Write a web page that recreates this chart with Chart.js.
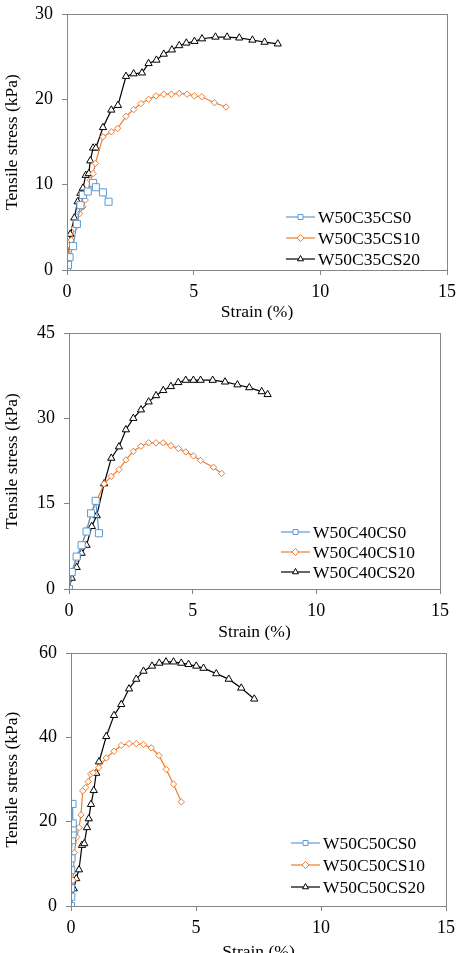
<!DOCTYPE html>
<html>
<head>
<meta charset="utf-8">
<script src="https://cdn.jsdelivr.net/npm/chart.js@4/dist/chart.umd.min.js"></script>
<style>
  html, body { margin: 0; padding: 0; background: #fff; overflow: hidden; }
  .box { position: absolute; left: 0; width: 462px; height: 320px; }
</style>
</head>
<body>
<div class="box" style="top:0px"><canvas id="c35" width="462" height="320"></canvas></div>
<div class="box" style="top:320px"><canvas id="c40" width="462" height="320"></canvas></div>
<div class="box" style="top:640px"><canvas id="c50" width="462" height="320"></canvas></div>
<script>
// W50C35
var strain35_cs0 = [0, 0.04, 0.1, 0.24, 0.39, 0.53, 0.63, 0.82, 1.03, 1.14, 1.42, 1.64];
var stress35_cs0 = [0, 0.6, 1.5, 2.8, 5.4, 7.6, 8.8, 9.2, 10.2, 9.7, 9.1, 8.0];
var strain35_cs10 = [0, 0.09, 0.17, 0.29, 0.39, 0.5, 0.63, 0.72, 0.82, 0.92, 1.03, 1.12, 1.42, 1.75, 2.0, 2.33, 2.63, 2.92, 3.22, 3.51, 3.82, 4.12, 4.43, 4.74, 5.03, 5.32, 5.82, 6.28];
var stress35_cs10 = [0, 2.9, 3.5, 4.9, 5.5, 6.6, 7.4, 8.2, 9.2, 10.5, 11.3, 12.5, 15.6, 16.2, 16.6, 18.0, 18.8, 19.5, 20.0, 20.4, 20.6, 20.6, 20.7, 20.6, 20.4, 20.3, 19.6, 19.1];
var strain35_cs20 = [0, 0.13, 0.29, 0.42, 0.53, 0.63, 0.74, 0.86, 0.92, 1.03, 1.14, 1.42, 1.75, 2.01, 2.33, 2.63, 2.96, 3.22, 3.53, 3.82, 4.14, 4.43, 4.71, 5.03, 5.33, 5.86, 6.32, 6.80, 7.32, 7.80, 8.32];
var stress35_cs20 = [0, 4.2, 6.1, 8.0, 9.0, 9.6, 11.1, 11.3, 12.8, 14.3, 14.3, 16.7, 18.75, 19.3, 22.7, 23.0, 23.1, 24.2, 24.6, 25.3, 25.8, 26.3, 26.6, 26.8, 27.1, 27.3, 27.3, 27.2, 26.95, 26.7, 26.5];

// W50C40
var strain40_cs0 = [0, 0.11, 0.31, 0.51, 0.71, 0.89, 1.08, 1.21];
var stress40_cs0 = [0, 3.0, 5.7, 7.7, 10.1, 13.3, 15.5, 9.8];
var strain40_cs10 = [0, 0.11, 0.31, 0.51, 0.71, 0.92, 1.12, 1.42, 1.71, 2.02, 2.30, 2.60, 2.91, 3.22, 3.52, 3.81, 4.12, 4.42, 4.72, 5.03, 5.32, 5.84, 6.17];
var stress40_cs10 = [0, 2.8, 5.3, 7.5, 10.4, 13.4, 15.5, 18.5, 19.8, 21.0, 22.7, 24.2, 25.1, 25.7, 25.7, 25.7, 25.2, 24.7, 24.1, 23.4, 22.6, 21.4, 20.3];
var strain40_cs20 = [0, 0.11, 0.31, 0.51, 0.71, 0.92, 1.12, 1.42, 1.71, 2.02, 2.30, 2.60, 2.91, 3.22, 3.52, 3.81, 4.12, 4.42, 4.72, 5.03, 5.32, 5.81, 6.31, 6.81, 7.29, 7.79, 8.03];
var stress40_cs20 = [0, 1.9, 3.8, 6.3, 7.7, 11.0, 12.9, 18.5, 23.0, 25.0, 28.0, 30.0, 31.5, 32.9, 34.0, 34.9, 35.6, 36.3, 36.7, 36.7, 36.7, 36.7, 36.4, 35.9, 35.4, 34.7, 34.2];

// W50C50
var strain50_cs0 = [0, 0.01, 0.0, 0.01, 0.02, 0.04, 0.07, 0.07, 0.07, 0.06];
var stress50_cs0 = [0, 2.2, 4.2, 8.5, 11.3, 15.6, 17.0, 18.4, 19.6, 24.2];
var strain50_cs10 = [0, 0.08, 0.13, 0.23, 0.32, 0.4, 0.47, 0.59, 0.69, 0.79, 0.89, 1.11, 1.41, 1.72, 2.01, 2.32, 2.61, 2.90, 3.21, 3.52, 3.81, 4.10, 4.41];
var stress50_cs10 = [0, 6.1, 12.6, 16.3, 18.6, 21.6, 27.3, 28.1, 29.5, 31.3, 31.6, 32.8, 35.1, 36.7, 38.1, 38.5, 38.5, 38.3, 37.5, 35.7, 32.4, 28.9, 24.7];
var strain50_cs20 = [0, 0.11, 0.21, 0.32, 0.44, 0.53, 0.64, 0.71, 0.8, 0.91, 1.01, 1.12, 1.41, 1.72, 2.01, 2.32, 2.61, 2.90, 3.24, 3.53, 3.80, 4.10, 4.41, 4.70, 5.01, 5.30, 5.81, 6.31, 6.81, 7.33];
var stress50_cs20 = [0, 4.1, 6.5, 8.6, 14.4, 14.8, 18.6, 20.7, 24.1, 27.4, 31.5, 34.2, 40.2, 45.2, 47.8, 51.5, 53.8, 55.7, 56.9, 57.6, 57.9, 57.9, 57.6, 57.3, 56.9, 56.4, 55.1, 53.8, 51.7, 49.1];

var xTicks = [0, 5, 10, 15];
var yTicks35 = [0, 10, 20, 30];
var yTicks40 = [0, 15, 30, 45];
var yTicks50 = [0, 20, 40, 60];

var FONT = "'Liberation Serif', 'Times New Roman', serif";
var BLUE = "#5B9BD5", ORANGE = "#ED7D31", BLACK = "#000000", FRAME = "#858585";

function pts(xs, ys) {
    return xs.map(function (x, i) { return { x: x, y: ys[i] }; });
}

function series(label, xs, ys, color, style, r) {
    return {
        label: label,
        data: pts(xs, ys),
        borderColor: color,
        backgroundColor: "#ffffff",
        borderWidth: 1.2,
        pointStyle: style,
        pointRadius: r,
        pointBorderWidth: 1,
        pointBorderColor: color,
        pointBackgroundColor: "#ffffff",
        tension: 0,
        fill: false,
    };
}

var frame = {
    id: "frame",
    afterDraw: function (chart) {
        var a = chart.chartArea, ctx = chart.ctx;
        ctx.save();
        ctx.strokeStyle = FRAME;
        ctx.lineWidth = 1;
        ctx.strokeRect(Math.round(a.left) + 0.5, Math.round(a.top) + 0.5,
            Math.round(a.right - a.left), Math.round(a.bottom - a.top));
        ctx.restore();
    },
};

var insideLegend = {
    id: "insideLegend",
    afterDraw: function (chart, args, opts) {
        var a = chart.chartArea, ctx = chart.ctx;
        ctx.save();
        ctx.font = "17.5px " + FONT;
        ctx.textBaseline = "middle";
        chart.data.datasets.forEach(function (ds, i) {
            var x0 = a.right - opts.fromRight;
            var y = a.bottom - opts.fromBottom + i * opts.step;
            ctx.strokeStyle = ds.borderColor;
            ctx.lineWidth = 1.2;
            ctx.beginPath();
            ctx.moveTo(x0, y);
            ctx.lineTo(x0 + 29, y);
            ctx.stroke();
            ctx.fillStyle = "#ffffff";
            ctx.strokeStyle = ds.borderColor;
            ctx.lineWidth = 1;
            Chart.helpers.drawPoint(ctx, { pointStyle: ds.pointStyle, radius: 3.5, rotation: 0, borderWidth: 1 }, x0 + 14.5, y);
            ctx.fillStyle = "#000000";
            ctx.fillText(ds.label, x0 + 32, y + 1);
        });
        ctx.restore();
    },
};

function makeChart(id, tag, sets, yMax, yTicks, lay, leg) {
    return new Chart(document.getElementById(id), {
        type: "line",
        data: {
            datasets: [
                series("W50" + tag + "CS0", sets[0], sets[1], BLUE, "rect", 5),
                series("W50" + tag + "CS10", sets[2], sets[3], ORANGE, "rectRot", 3.2),
                series("W50" + tag + "CS20", sets[4], sets[5], BLACK, "triangle", 4.2),
            ],
        },
        plugins: [frame, insideLegend],
        options: {
            responsive: false,
            animation: false,
            layout: { padding: { top: lay.top, right: lay.right, bottom: 0, left: 0 } },
            plugins: {
                legend: { display: false },
                tooltip: { enabled: false },
                insideLegend: leg,
            },
            scales: {
                x: {
                    type: "linear",
                    min: 0,
                    max: 15,
                    afterBuildTicks: function (s) { s.ticks = xTicks.map(function (v) { return { value: v }; }); },
                    afterFit: function (s) {
                        s.height = lay.xh;
                        s.paddingLeft = 0;
                        s.paddingRight = 0;
                    },
                    grid: { display: true, drawOnChartArea: false, tickLength: 5, color: FRAME },
                    border: { color: FRAME },
                    ticks: { color: "#000", padding: 6, font: { size: 18, family: FONT } },
                    title: {
                        display: true,
                        text: "Strain (%)",
                        color: "#000",
                        padding: { top: 0, bottom: -3 },
                        font: { size: 17.5, family: FONT },
                    },
                },
                y: {
                    type: "linear",
                    min: 0,
                    max: yMax,
                    afterBuildTicks: function (s) { s.ticks = yTicks.map(function (v) { return { value: v }; }); },
                    afterFit: function (s) {
                        s.width = lay.yw;
                        s.paddingTop = 0;
                        s.paddingBottom = 0;
                    },
                    grid: { display: true, drawOnChartArea: false, tickLength: 5, color: FRAME },
                    border: { color: FRAME },
                    ticks: { color: "#000", padding: 9, font: { size: 18, family: FONT } },
                    title: {
                        display: true,
                        text: "Tensile stress (kPa)",
                        color: "#000",
                        padding: { top: 2, bottom: 0 },
                        font: { size: 17.5, family: FONT },
                    },
                },
            },
        },
    });
}

makeChart("c35", "C35",
    [strain35_cs0, stress35_cs0, strain35_cs10, stress35_cs10, strain35_cs20, stress35_cs20],
    30, yTicks35,
    { top: 14, right: 15, xh: 50, yw: 67 },
    { fromRight: 161, fromBottom: 53, step: 21 });

makeChart("c40", "C40",
    [strain40_cs0, stress40_cs0, strain40_cs10, stress40_cs10, strain40_cs20, stress40_cs20],
    45, yTicks40,
    { top: 13, right: 22, xh: 51, yw: 69 },
    { fromRight: 159, fromBottom: 57, step: 20 });

makeChart("c50", "C50",
    [strain50_cs0, stress50_cs0, strain50_cs10, stress50_cs10, strain50_cs20, stress50_cs20],
    60, yTicks50,
    { top: 13, right: 16, xh: 54, yw: 71 },
    { fromRight: 155, fromBottom: 63, step: 22 });
</script>
</body>
</html>
